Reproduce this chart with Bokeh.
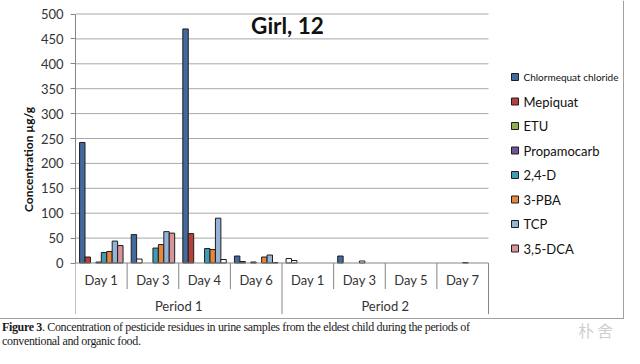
import numpy as np
from bokeh.plotting import figure
from bokeh.layouts import column
from bokeh.models import Range1d, FixedTicker, Title, Div
from bokeh.core.properties import value
from bokeh.embed import file_html
from bokeh.resources import INLINE

# ---------------- data ----------------
days = ["Day 1", "Day 3", "Day 4", "Day 6", "Day 1", "Day 3", "Day 5", "Day 7"]
periods = ["Period 1", "Period 2"]
period_sizes = [4, 4]

series_names = ["Chlormequat chloride", "Mepiquat", "ETU", "Propamocarb",
                "2,4-D", "3-PBA", "TCP", "3,5-DCA"]
chlormequat = [242, 57, 470, 14, 9, 14, 0, 0]
mepiquat = [12, 8, 59, 3, 5, 0, 0, 0]
etu = [0, 0, 0, 0, 0, 0, 0, 0]
propamocarb = [2, 0, 0, 2, 0, 0, 0, 0]
d24 = [21, 30, 29, 0, 0, 4, 0, 1]
pba3 = [23, 37, 27, 12, 0, 0, 0, 0]
tcp = [44, 63, 90, 16, 0, 0, 0, 0]
dca35 = [35, 60, 7, 1, 0, 0, 0, 0]
series_values = [chlormequat, mepiquat, etu, propamocarb, d24, pba3, tcp, dca35]
# bars shown hollow (white) in the original, by category index
hollow = {"Chlormequat chloride": [4], "Mepiquat": [1, 4], "2,4-D": [5], "3,5-DCA": [2]}

yticks = [0, 50, 100, 150, 200, 250, 300, 350, 400, 450, 500]
title_text = "Girl, 12"
y_label = "Concentration µg/g"
caption_bold = "Figure 3"
caption_line1 = ". Concentration of pesticide residues in urine samples from the eldest child during the periods of"
caption_line2 = "conventional and organic food."
watermark = "朴舍"

# ---------------- style ----------------
colors = ["#44699C", "#B5403C", "#8FB050", "#6E5594", "#3E9DB3", "#E8873C", "#95B3D7", "#D7959A"]
W, H = 624, 318
LEFT = 75
CAT_W = 51.625
PXU = 0.498             # pixels per unit
ZERO_Y = 262.5          # canvas y of value 0 (from top)
FONT = "Lato"
AX = "#868686"
TXT = "#333333"

p = figure(width=W, height=H, output_backend="svg", toolbar_location=None,
           x_range=Range1d(0, (W - LEFT) / CAT_W),
           y_range=Range1d(-(H - ZERO_Y) / PXU, ZERO_Y / PXU),
           x_axis_location=None, y_axis_location="left",
           min_border_left=LEFT, min_border_right=0, min_border_top=0, min_border_bottom=0)
p.extra_x_ranges = {"px": Range1d(LEFT, W)}
p.extra_y_ranges = {"px": Range1d(H, 0)}
p.xgrid.visible = False
p.ygrid.visible = False
p.outline_line_color = None
p.background_fill_color = "white"
p.border_fill_color = "white"

n = len(days)

# gridlines (except 0, which is the category axis line)
grid_vals = [t for t in yticks if t != 0]
p.segment(x0=[0] * len(grid_vals), x1=[n] * len(grid_vals), y0=grid_vals, y1=grid_vals,
          line_color="#A9A9A9", line_width=1)

# bars
bw = 1 / 9.5
cats = np.arange(n)
for i, (name, vals) in enumerate(zip(series_names, series_values)):
    xs, tops, fills = [], [], []
    for c in range(n):
        if vals[c] == 0:
            continue
        xs.append(c + 0.5 + (i - 3.5) * bw)
        tops.append(vals[c])
        fills.append("white" if c in hollow.get(name, []) else colors[i])
    if xs:
        p.vbar(x=xs, top=tops, bottom=0, width=bw, fill_color=fills,
               line_color="#1E1E1E", line_width=1)

# y axis
ya = p.yaxis[0]
ya.ticker = FixedTicker(ticks=yticks)
ya.bounds = (0, 500)
ya.axis_line_color = AX
ya.major_tick_line_color = AX
ya.major_tick_out = 5
ya.major_tick_in = 0
ya.minor_tick_line_color = None
ya.major_label_text_font = FONT
ya.major_label_text_font_size = "13px"
ya.major_label_text_color = TXT
ya.major_label_standoff = 7

# y axis title (in the left panel, shifted up to the plot-area centre)
p.add_layout(Title(text=y_label, align="center", offset=10, standoff=4,
                   text_font=FONT, text_font_style="bold", text_font_size="12px",
                   text_color="#111111"), "left")

# category axis (two levels)
p.segment(x0=[0], x1=[n], y0=[0], y1=[0], line_color=AX, line_width=1)
bounds = list(np.cumsum([0] + period_sizes))
day_seps = [c for c in range(1, n) if c not in bounds]
p.segment(x0=day_seps, x1=day_seps, y0=[ZERO_Y] * len(day_seps), y1=[ZERO_Y + 26] * len(day_seps),
          y_range_name="px", line_color=AX, line_width=1)
p.segment(x0=bounds, x1=bounds, y0=[ZERO_Y] * len(bounds), y1=[ZERO_Y + 51] * len(bounds),
          y_range_name="px", line_color=AX, line_width=1)
p.text(x=cats + 0.5, y=[ZERO_Y + 17] * n, y_range_name="px", text=days,
       text_font=value(FONT), text_font_size="13px", text_color=TXT,
       text_align="center", text_baseline="middle")
pcent = [(bounds[k] + bounds[k + 1]) / 2 for k in range(len(periods))]
p.text(x=pcent, y=[ZERO_Y + 43] * len(periods), y_range_name="px", text=periods,
       text_font=value(FONT), text_font_size="13px", text_color=TXT,
       text_align="center", text_baseline="middle")

# chart title
p.text(x=[287], y=[25], x_range_name="px", y_range_name="px", text=[title_text],
       text_font=value(FONT), text_font_style="bold", text_font_size="22.5px",
       text_color="#111111", text_align="center", text_baseline="middle")

# legend
leg_y = [76.5 + 24.5 * k for k in range(len(series_names))]
p.rect(x=[514.5] * len(series_names), y=leg_y, width=7, height=7,
       x_range_name="px", y_range_name="px", fill_color=colors,
       line_color="#1E1E1E", line_width=1)
p.text(x=[523] * len(series_names), y=leg_y, x_range_name="px", y_range_name="px",
       text=series_names, text_font=value(FONT),
       text_font_size=["10px"] + ["13px"] * (len(series_names) - 1),
       text_color="#111111", text_align="left", text_baseline="middle")

# chart border (right side)
p.segment(x0=[623], x1=[623], y0=[0], y1=[H], x_range_name="px", y_range_name="px",
          line_color="#A0A0A0", line_width=1)

# caption below the chart (its top border closes the chart box)
caption_html = (
    '<div style="display:flex;justify-content:space-between;align-items:flex-start;'
    'width:624px;height:30px;border-top:1px solid #A0A0A0;box-sizing:border-box;">'
    '<div style="font-family:\'Liberation Serif\',serif;font-size:12px;letter-spacing:-0.35px;'
    'line-height:14px;color:#1A1A1A;padding-top:1px;padding-left:2px;white-space:nowrap;">'
    f'<b>{caption_bold}</b>{caption_line1}<br>{caption_line2}</div>'
    '<div style="font-family:\'Noto Sans CJK SC\';font-size:16px;line-height:18px;'
    f'letter-spacing:3px;color:#CFCFCF;margin-right:8px;margin-top:2px;">{watermark}</div>'
    '</div>'
)
cap = Div(text=caption_html, width=624, height=30, margin=(0, 0, 0, 0))

layout = column(p, cap, spacing=0)
open("out.html", "w").write(file_html(layout, INLINE))
